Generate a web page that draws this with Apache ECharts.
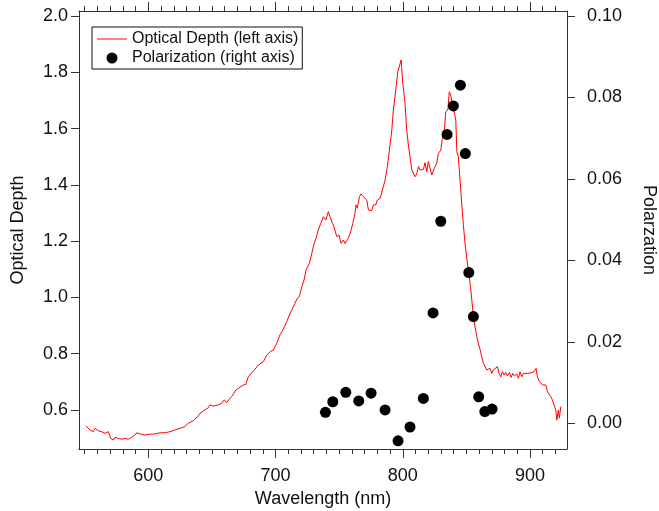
<!DOCTYPE html>
<html>
<head>
<meta charset="utf-8">
<script src="https://cdn.jsdelivr.net/npm/echarts@6.0.0/dist/echarts.min.js"></script>
<style>
  html, body { margin: 0; padding: 0; background: #fff; }
  #chart { width: 659px; height: 511px; }
</style>
</head>
<body>
<div id="chart"></div>
<script>
// Absorption spectrum (optical depth) versus wavelength, nm
const wavelengthNm = [
  551.0, 554.2, 556.8, 558.1, 560.7, 563.4, 566.0, 568.6, 570.4, 572.5,
  573.8, 576.4, 579.1, 581.7, 584.3, 586.9, 589.5, 590.9, 593.5, 597.4,
  601.3, 605.3, 609.2, 613.1, 617.0, 621.0, 624.9, 628.8, 631.4, 635.4,
  639.3, 640.6, 642.0, 644.5, 646.7, 648.5, 651.1, 655.0, 657.7, 659.7,
  661.6, 664.2, 666.0, 668.7, 672.1, 674.7, 676.6, 678.6, 681.3, 683.9,
  686.5, 690.4, 693.1, 695.7, 698.3, 700.9, 703.5, 706.1, 708.8, 711.4,
  712.7, 715.3, 717.1, 718.7, 720.6, 722.4, 724.0, 726.6, 728.5, 730.3,
  731.8, 733.6, 735.5, 737.6, 739.5, 741.5, 742.8, 744.7, 746.0, 748.1,
  749.9, 751.5, 753.3, 754.6, 757.2, 759.1, 760.7, 762.5, 763.3, 764.3,
  765.9, 767.2, 769.0, 770.4, 771.7, 773.0, 774.3, 775.6, 776.9, 778.8,
  780.0, 782.2, 784.0, 786.1, 787.9, 789.5, 791.4, 792.6, 794.5, 796.1,
  797.4, 798.7, 800.0, 801.8, 803.0, 804.4, 805.7, 807.1, 808.3, 809.7,
  811.0, 812.3, 813.6, 814.9, 816.2, 817.5, 818.9, 820.1, 821.5, 822.8,
  824.8, 826.7, 828.0, 829.9, 831.1, 832.7, 833.8, 835.4, 836.6, 838.0,
  839.3, 840.6, 841.7, 842.5, 843.7, 845.0, 846.4, 847.6, 849.0, 850.3,
  851.9, 853.2, 854.3, 855.5, 856.8, 858.2, 859.5, 860.8, 862.1, 863.4,
  864.7, 866.0, 867.3, 868.6, 870.0, 871.2, 872.6, 874.4, 875.7, 877.0,
  878.3, 879.6, 881.0, 882.2, 883.8, 885.2, 886.5, 887.8, 889.6, 890.9,
  892.2, 893.6, 894.8, 896.2, 898.0, 899.5, 901.4, 903.2, 904.8, 905.8,
  907.4, 908.5, 909.8, 911.1, 912.4, 913.7, 915.0, 916.4, 917.6, 918.9,
  920.3, 921.1, 922.3, 923.1, 924.2
];
const opticalDepth = [
  0.543, 0.529, 0.523, 0.535, 0.526, 0.523, 0.517, 0.523, 0.499, 0.493,
  0.503, 0.499, 0.496, 0.499, 0.496, 0.503, 0.511, 0.519, 0.515, 0.511,
  0.514, 0.515, 0.519, 0.519, 0.523, 0.529, 0.535, 0.541, 0.553, 0.562,
  0.579, 0.588, 0.594, 0.601, 0.606, 0.618, 0.614, 0.618, 0.624, 0.636,
  0.626, 0.642, 0.650, 0.671, 0.681, 0.689, 0.691, 0.718, 0.733, 0.745,
  0.760, 0.772, 0.795, 0.807, 0.813, 0.837, 0.867, 0.887, 0.914, 0.944,
  0.955, 0.980, 0.997, 1.003, 1.038, 1.062, 1.098, 1.121, 1.157, 1.192,
  1.210, 1.240, 1.263, 1.287, 1.275, 1.305, 1.287, 1.263, 1.251, 1.216,
  1.222, 1.192, 1.204, 1.192, 1.210, 1.234, 1.263, 1.300, 1.329, 1.317,
  1.358, 1.368, 1.358, 1.364, 1.346, 1.311, 1.317, 1.308, 1.329, 1.329,
  1.346, 1.352, 1.382, 1.417, 1.465, 1.524, 1.595, 1.666, 1.737, 1.802,
  1.808, 1.844, 1.761, 1.690, 1.600, 1.542, 1.500, 1.453, 1.450, 1.429,
  1.439, 1.465, 1.453, 1.459, 1.455, 1.479, 1.447, 1.483, 1.488, 1.435,
  1.459, 1.477, 1.512, 1.524, 1.565, 1.595, 1.660, 1.666, 1.731, 1.713,
  1.678, 1.654, 1.630, 1.518, 1.500, 1.420, 1.330, 1.260, 1.190, 1.140,
  1.088, 1.040, 0.990, 0.933, 0.895, 0.860, 0.835, 0.815, 0.789, 0.766,
  0.772, 0.742, 0.736, 0.748, 0.730, 0.742, 0.736, 0.754, 0.730, 0.718,
  0.736, 0.724, 0.733, 0.721, 0.733, 0.716, 0.730, 0.721, 0.728, 0.713,
  0.736, 0.718, 0.730, 0.724, 0.730, 0.728, 0.733, 0.736, 0.748, 0.718,
  0.701, 0.707, 0.689, 0.683, 0.689, 0.665, 0.671, 0.647, 0.636, 0.618,
  0.600, 0.564, 0.600, 0.571, 0.612
];

// Polarization measurements (right axis)
const polWavelengthNm = [
  739.2, 745.0, 755.2, 765.4, 775.1, 786.1, 796.3, 805.7, 816.2, 823.8,
  829.9, 834.8, 839.8, 845.3, 849.2, 851.9, 855.5, 859.7, 864.5, 870.2
];
const polarization = [
  0.0027, 0.0053, 0.0076, 0.0055, 0.0074, 0.0033, -0.0043, -0.0009, 0.0061, 0.0271,
  0.0496, 0.0709, 0.0779, 0.0830, 0.0662, 0.0370, 0.0262, 0.0065, 0.0029, 0.0035
];

// Tick positions
const xMajorTicks = [600, 700, 800, 900];
const xMinorTicks = [550, 560, 570, 580, 590, 610, 620, 630, 640, 650, 660, 670, 680, 690,
  710, 720, 730, 740, 750, 760, 770, 780, 790, 810, 820, 830, 840, 850, 860, 870, 880, 890,
  910, 920];
const leftTicks = [0.6, 0.8, 1.0, 1.2, 1.4, 1.6, 1.8, 2.0];
const rightTicks = [0.00, 0.02, 0.04, 0.06, 0.08, 0.10];

const seriesNames = ['Optical Depth (left axis)', 'Polarization (right axis)'];
const axisTitles = { x: 'Wavelength (nm)', left: 'Optical Depth', right: 'Polarzation' };

const FONT = "'Liberation Sans', Arial, Helvetica, sans-serif";
const AXIS_COLOR = '#333';
const TEXT_COLOR = '#111';
const X_MIN = 545.5, X_MAX = 929.1;

function xAxisDef(position, ticks, len, withLine, withLabels) {
  return {
    type: 'value', position: position, min: X_MIN, max: X_MAX,
    axisLine: { show: withLine, onZero: false, lineStyle: { color: AXIS_COLOR, width: 1 } },
    axisTick: { show: true, inside: false, length: len, customValues: ticks,
      lineStyle: { color: AXIS_COLOR, width: 1 } },
    axisLabel: withLabels ? {
      show: true, customValues: ticks, margin: 18, fontSize: 18, fontFamily: FONT, color: TEXT_COLOR
    } : { show: false },
    splitLine: { show: false },
    name: withLabels ? axisTitles.x : '',
    nameLocation: 'middle', nameGap: 37,
    nameTextStyle: { fontSize: 18, fontFamily: FONT, color: TEXT_COLOR }
  };
}

const chart = echarts.init(document.getElementById('chart'), null, { renderer: 'canvas' });
chart.setOption({
  animation: false,
  backgroundColor: '#fff',
  grid: { left: 79, right: 92, top: 11, bottom: 62, containLabel: false, outerBoundsMode: 'none' },
  legend: {
    orient: 'vertical', left: 92, top: 27,
    padding: [4, 4, 3, 5], itemGap: 3, itemWidth: 30, itemHeight: 11, itemTextGap: 6,
    borderColor: '#111', borderWidth: 1, backgroundColor: '#fff',
    textStyle: { fontSize: 16, fontFamily: FONT, color: TEXT_COLOR, lineHeight: 16 },
    data: [
      { name: seriesNames[0], icon: 'path://M0,0 L30,0 L30,1 L0,1 Z' },
      { name: seriesNames[1], icon: 'circle' }
    ]
  },
  xAxis: [
    xAxisDef('bottom', xMajorTicks, 9, true, true),
    xAxisDef('bottom', xMinorTicks, 5, false, false),
    xAxisDef('top', xMajorTicks, 9, true, false),
    xAxisDef('top', xMinorTicks, 5, false, false)
  ],
  yAxis: [
    {
      type: 'value', position: 'left', min: 0.4614, max: 2.018,
      axisLine: { show: true, onZero: false, lineStyle: { color: AXIS_COLOR, width: 1 } },
      axisTick: { show: true, length: 8, customValues: leftTicks, lineStyle: { color: AXIS_COLOR } },
      axisLabel: { customValues: leftTicks, margin: 11, fontSize: 18, fontFamily: FONT, color: TEXT_COLOR,
        formatter: v => v.toFixed(1) },
      splitLine: { show: false },
      name: axisTitles.left, nameLocation: 'middle', nameGap: 52, nameRotate: 90,
      nameTextStyle: { fontSize: 18, fontFamily: FONT, color: TEXT_COLOR }
    },
    {
      type: 'value', position: 'right', min: -0.0063, max: 0.1012,
      axisLine: { show: true, onZero: false, lineStyle: { color: AXIS_COLOR, width: 1 } },
      axisTick: { show: true, length: 8, customValues: rightTicks, lineStyle: { color: AXIS_COLOR } },
      axisLabel: { customValues: rightTicks, margin: 20, fontSize: 18, fontFamily: FONT, color: TEXT_COLOR,
        formatter: v => v.toFixed(2) },
      splitLine: { show: false },
      name: axisTitles.right, nameLocation: 'middle', nameGap: 73, nameRotate: -90,
      nameTextStyle: { fontSize: 18, fontFamily: FONT, color: TEXT_COLOR }
    }
  ],
  series: [
    {
      name: seriesNames[0], type: 'line', xAxisIndex: 0, yAxisIndex: 0,
      symbol: 'none', showSymbol: false,
      lineStyle: { color: '#ff0000', width: 1 }, itemStyle: { color: '#ff0000' },
      data: wavelengthNm.map((w, i) => [w, opticalDepth[i]]),
      z: 2
    },
    {
      name: seriesNames[1], type: 'scatter', xAxisIndex: 0, yAxisIndex: 1,
      symbol: 'circle', symbolSize: 11,
      itemStyle: { color: '#000', opacity: 1 },
      data: polWavelengthNm.map((w, i) => [w, polarization[i]]),
      z: 3
    }
  ]
});
</script>
</body>
</html>
